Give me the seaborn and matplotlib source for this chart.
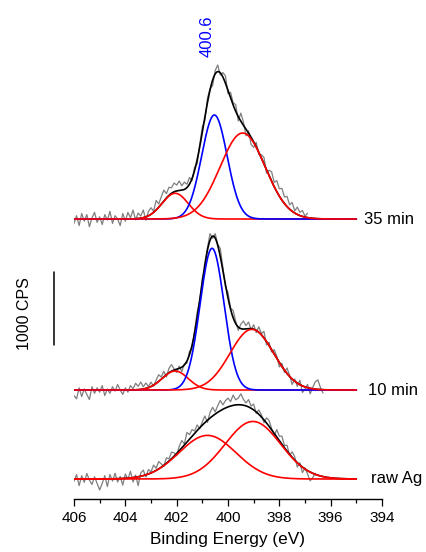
import numpy as np
import pandas as pd
import matplotlib
matplotlib.use("Agg")
import matplotlib.pyplot as plt
from matplotlib.ticker import MultipleLocator
import seaborn as sns

sns.set_style("ticks")
plt.rcParams['font.family'] = ['Liberation Sans', 'DejaVu Sans']
plt.rcParams['text.color'] = 'black'
plt.rcParams['axes.labelcolor'] = 'black'
plt.rcParams['xtick.color'] = 'black'
plt.rcParams['axes.edgecolor'] = 'black'

# ---------------- data ----------------
trace_labels = ["raw Ag", "10 min", "35 min"]
trace_offsets = [0, 1214, 3547]           # CPS vertical offsets
data_start = 406.0
data_step = 0.1

# fitted components: center (eV), height (CPS), FWHM (eV), colour
ag_centers = [400.8, 399.03]
ag_heights = [595, 785]
ag_fwhm = [2.6, 2.55]
ag_colors = ["#ff0000", "#ff0000"]

m10_centers = [402.06, 400.62, 399.07]
m10_heights = [259, 1933, 828]
m10_fwhm = [1.2, 1.1, 2.0]
m10_colors = ["#ff0000", "#0000ff", "#ff0000"]

m35_centers = [402.06, 400.53, 399.43]
m35_heights = [351, 1419, 1173]
m35_fwhm = [1.2, 1.17, 2.07]
m35_colors = ["#ff0000", "#0000ff", "#ff0000"]

# measured spectra expressed as deviation from the fit envelope (CPS), 0.1 eV steps from 406 eV
res_ag = [-30, 60, -90, 45, -45, 75, -15, -75, 30, -60,
          -150, -60, 45, -105, 60, -30, 75, -45, 30, -90,
          60, -15, 90, -60, 30, -120, 45, 75, -30, 60,
          15, 90, 30, 100, 45, -15, 75, 30, 90, 45,
          -30, 60, 100, 15, 130, 60, 90, 30, 75, -15,
          45, 90, -30, 75, 120, 30, 90, 140, 60, 100,
          120, 60, 140, 70, 90, 150, 80, 40, 100, 30,
          80, -20, 60, 30, -40, 70, 80, 15, -30, 100,
          60, 110, 30, 80, -15, 75, 45, -60, 30, -75,
          15, -45, -120, -60, 15]
res_10 = [-75, -120, 30, -90, 15, -60, -130, 45, -45, 30,
          -30, 60, -75, 15, -45, 45, -15, 75, 0, -60,
          30, -30, 60, 15, 90, 45, 100, 30, 75, 15,
          60, -15, 45, 90, 30, 75, -30, 60, 90, 15,
          -45, 30, -60, 15, -30, 45, -45, 30, 75, -15,
          45, -60, 30, 90, -30, 60, 15, 110, 45, -30,
          75, 15, 100, 30, -45, 60, 110, 45, 90, -15,
          60, -30, 75, 15, 90, -45, 45, -30, 60, 30,
          -60, 45, -30, 75, 15, -75, 30, -45, 60, -90,
          -30, 45, -75, 15, 100, 130, 30, -45]
res_35 = [-60, 45, -90, 75, -30, 60, -105, 15, 90, -45,
          30, -75, 60, -15, 105, -60, 45, 0, -90, 75,
          -30, 90, 15, 120, -15, 75, 30, 105, -45, 60,
          90, 15, 130, 45, 100, 150, 60, 110, 75, 120,
          80, 130, 60, 100, 45, 90, -30, 45, -60, 30,
          75, -45, 60, 15, -75, 45, 90, -30, 60, 100,
          -45, 75, 30, 90, -60, 110, 45, -90, 30, -100,
          -75, 60, -30, 45, 90, -45, 75, 130, 60, 150,
          100, 160, 90, 140, 60, 120, 30, 100, 45, 80,
          15, 60]

peak_label = "400.6"
scale_label = "1000 CPS"
scale_cps = 1000

# ---------------- figure ----------------
fig = plt.figure(figsize=(4.27, 5.52), dpi=100)
ax = fig.add_axes([0.1733, 0.096, 0.7213, 0.904])


def gauss(x, c, h, w):
    s = w / 2.3548
    return h * np.exp(-(x - c) ** 2 / (2 * s * s))


x_fit = np.linspace(406.0, 395.0, 1101)

traces = [
    (ag_centers, ag_heights, ag_fwhm, ag_colors, res_ag),
    (m10_centers, m10_heights, m10_fwhm, m10_colors, res_10),
    (m35_centers, m35_heights, m35_fwhm, m35_colors, res_35),
]

for (cs, hs, ws, cols, res), off, lab in zip(traces, trace_offsets, trace_labels):
    n = len(res)
    x_data = data_start - data_step * np.arange(n)
    env_data = sum(gauss(x_data, c, h, w) for c, h, w in zip(cs, hs, ws))
    y_data = env_data + np.array(res) + off
    sns.lineplot(x=x_data, y=y_data, color="#7f7f7f", lw=0.9, ax=ax,
                 estimator=None, sort=False)
    comps = [gauss(x_fit, c, h, w) for c, h, w in zip(cs, hs, ws)]
    env = sum(comps)
    sns.lineplot(x=x_fit, y=env + off, color="black", lw=1.2, ax=ax,
                 estimator=None, sort=False)
    for comp, col in zip(comps, cols):
        sns.lineplot(x=x_fit, y=comp + off, color=col, lw=1.2, ax=ax,
                     estimator=None, sort=False)

# trace labels
label_x = [394.43, 394.54, 394.70]
for lab, off, lx in zip(trace_labels, trace_offsets, label_x):
    ax.text(lx, off, lab, fontsize=12, ha="left", va="center", clip_on=False)

# peak annotation
ax.text(400.81, 5757, peak_label, rotation=90, color="#0000ff", fontsize=12,
        ha="center", va="bottom", clip_on=False)

# scale bar
ax.plot([406.77, 406.77], [1828, 1828 + scale_cps], color="black", lw=1.1, clip_on=False)
ax.text(407.91, 2251, scale_label, rotation=90, fontsize=11.5,
        ha="center", va="center", clip_on=False)

ax.set_xlim(406, 394)
ax.set_ylim(-273, 6535)
ax.xaxis.set_major_locator(MultipleLocator(2))
ax.xaxis.set_minor_locator(MultipleLocator(1))
ax.tick_params(axis="x", which="major", direction="out", length=5, width=0.9,
               labelsize=11, pad=3.5, colors="black")
ax.tick_params(axis="x", which="minor", direction="out", length=3, width=0.9, colors="black")
ax.set_yticks([])
for s in ["left", "right", "top"]:
    ax.spines[s].set_visible(False)
ax.spines["bottom"].set_linewidth(1.0)
ax.spines["bottom"].set_color("black")
ax.set_xlabel("Binding Energy (eV)", fontsize=12.4, labelpad=5, color="black")
ax.set_ylabel("")
ax.patch.set_alpha(0)

fig.savefig("out.png", dpi=100)
